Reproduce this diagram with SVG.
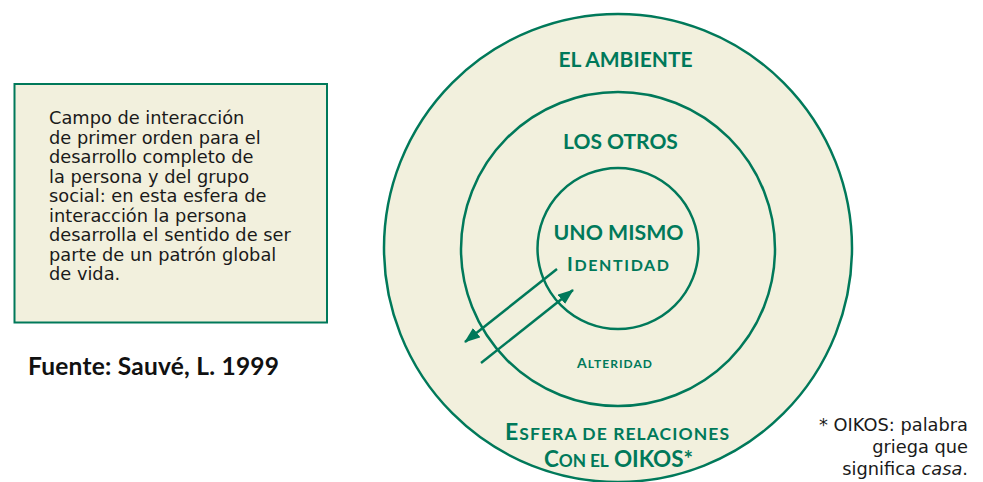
<svg xmlns="http://www.w3.org/2000/svg" width="983" height="482" viewBox="0 0 983 482">
<style>
.ring{fill:#f2f0dd;stroke:#00795a;stroke-width:2.5}
.lbl{font-family:Lato,"Open Sans",sans-serif;font-weight:bold;fill:#00795a;text-anchor:middle}
.body{font-family:"DejaVu Sans",Verdana,sans-serif;font-size:17.8px;fill:#1a1a1a}
.arr{stroke:#00795a;stroke-width:2.5;fill:none}
</style>
<defs>
<marker id="ah" viewBox="0 0 16 12" refX="15" refY="6" markerWidth="16" markerHeight="12" markerUnits="userSpaceOnUse" orient="auto">
<path d="M0,0 L16,6 L0,12 Z" fill="#00795a"/>
</marker>
</defs>
<rect width="983" height="482" fill="#ffffff"/>
<g id="box">
<rect x="14.5" y="84" width="312.5" height="238.5" fill="#f2f0dd" stroke="#00795a" stroke-width="2"/>
<text class="body" x="49" y="124">Campo de interacción</text>
<text class="body" x="49" y="143.5">de primer orden para el</text>
<text class="body" x="49" y="163">desarrollo completo de</text>
<text class="body" x="49" y="182.5">la persona y del grupo</text>
<text class="body" x="49" y="202">social: en esta esfera de</text>
<text class="body" x="49" y="221.5">interacción la persona</text>
<text class="body" x="49" y="241">desarrolla el sentido de ser</text>
<text class="body" x="49" y="260.5">parte de un patrón global</text>
<text class="body" x="49" y="280">de vida.</text>
</g>
<g id="source">
<text x="28" y="375" font-family="Lato,'Open Sans',sans-serif" font-weight="bold" font-size="24.5" fill="#111" textLength="251" lengthAdjust="spacing">Fuente: Sauvé, L. 1999</text>
</g>
<g id="ambiente">
<circle class="ring" cx="618" cy="248" r="234"/>
<text class="lbl" x="625.5" y="67" font-size="21">EL AMBIENTE</text>
<text class="lbl" x="617" y="440" font-size="23" textLength="224" lengthAdjust="spacing">E<tspan font-size="17.5">SFERA DE RELACIONES</tspan></text>
<text class="lbl" x="618.5" y="466.5" font-size="22.5" textLength="149" lengthAdjust="spacing">C<tspan font-size="17.3">ON EL</tspan> OIKOS*</text>
</g>
<g id="otros">
<circle class="ring" cx="618" cy="249" r="157"/>
<text class="lbl" x="620.5" y="149" font-size="21">LOS OTROS</text>
<text class="lbl" x="614.5" y="368" font-size="14" textLength="75" lengthAdjust="spacing">A<tspan font-size="12">LTERIDAD</tspan></text>
</g>
<g id="mismo">
<circle class="ring" cx="618" cy="248.5" r="80.5"/>
<text class="lbl" x="618.5" y="240" font-size="21.3">UNO MISMO</text>
<text class="lbl" x="618" y="271" font-size="19.5" textLength="102" lengthAdjust="spacing">I<tspan font-size="16">DENTIDAD</tspan></text>
</g>
<g id="connectors">
<line class="arr" x1="557" y1="269" x2="465" y2="342" marker-end="url(#ah)"/>
<line class="arr" x1="481" y1="363" x2="573" y2="290" marker-end="url(#ah)"/>
</g>
<g id="note">
<text class="body" x="968" y="431" text-anchor="end">* OIKOS: palabra</text>
<text class="body" x="968" y="453" text-anchor="end">griega que</text>
<text class="body" x="968" y="475" text-anchor="end">significa <tspan font-style="italic">casa</tspan>.</text>
</g>
</svg>
